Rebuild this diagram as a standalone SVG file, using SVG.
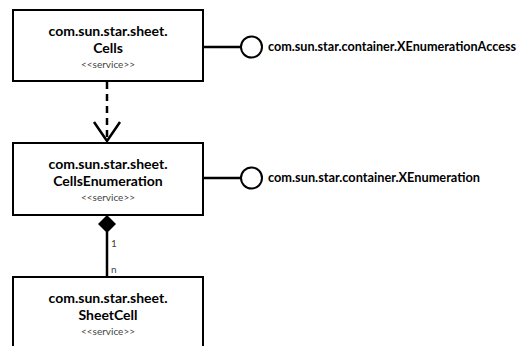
<svg xmlns="http://www.w3.org/2000/svg" width="519" height="346" viewBox="0 0 519 346">
<defs>
<style>
.box{fill:#fff;stroke:#000;stroke-width:2}
.t{font-family:Lato,"Noto Sans",sans-serif;font-weight:bold;font-size:14px;fill:#000;text-anchor:middle}
.s{font-family:Lato,"Noto Sans",sans-serif;font-size:10px;fill:#444;text-anchor:middle}
.i{font-family:Lato,"Noto Sans",sans-serif;font-weight:bold;font-size:12.5px;fill:#000}
.m{font-family:Lato,"Noto Sans",sans-serif;font-size:10px;fill:#444}
.ln{stroke:#000;stroke-width:2.5;fill:none}
</style>
</defs>
<rect width="519" height="346" fill="#fff"/>
<g id="connectors">
<line class="ln" x1="107" y1="82" x2="107" y2="139" stroke-dasharray="7,5"/>
<polyline class="ln" points="94,122 107,141 120,122"/>
<line class="ln" x1="204" y1="47" x2="241" y2="47"/>
<circle cx="251.5" cy="47" r="10.5" fill="#fff" stroke="#000" stroke-width="2"/>
<line class="ln" x1="204" y1="178" x2="241" y2="178"/>
<circle cx="251.5" cy="178" r="10.5" fill="#fff" stroke="#000" stroke-width="2"/>
<line class="ln" x1="107" y1="232" x2="107" y2="277"/>
<polygon points="107,215 116,224 107,233 98,224" fill="#000"/>
<text class="m" x="111" y="247">1</text>
<text class="m" x="111" y="273">n</text>
</g>
<g id="cells">
<rect class="box" x="13" y="10" width="190" height="71"/>
<text class="t" x="108" y="36" textLength="119" lengthAdjust="spacingAndGlyphs">com.sun.star.sheet.</text>
<text class="t" x="108" y="53">Cells</text>
<text class="s" x="108" y="68">&lt;&lt;service&gt;&gt;</text>
</g>
<g id="cellsenum">
<rect class="box" x="13" y="143" width="190" height="72"/>
<text class="t" x="108" y="169" textLength="119" lengthAdjust="spacingAndGlyphs">com.sun.star.sheet.</text>
<text class="t" x="108" y="186">CellsEnumeration</text>
<text class="s" x="108" y="201">&lt;&lt;service&gt;&gt;</text>
</g>
<g id="sheetcell">
<rect class="box" x="13" y="277" width="190" height="80"/>
<text class="t" x="108" y="303" textLength="119" lengthAdjust="spacingAndGlyphs">com.sun.star.sheet.</text>
<text class="t" x="108" y="320">SheetCell</text>
<text class="s" x="108" y="335">&lt;&lt;service&gt;&gt;</text>
</g>
<g id="xenumaccess">
<text class="i" x="268" y="51" textLength="248" lengthAdjust="spacingAndGlyphs">com.sun.star.container.XEnumerationAccess</text>
</g>
<g id="xenum">
<text class="i" x="268" y="182" textLength="212" lengthAdjust="spacingAndGlyphs">com.sun.star.container.XEnumeration</text>
</g>
</svg>
